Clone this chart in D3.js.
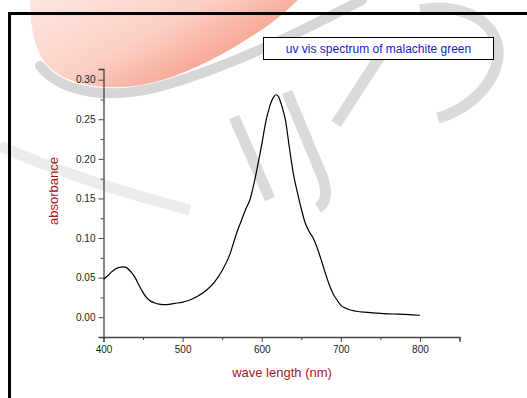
<!DOCTYPE html>
<html>
<head>
<meta charset="utf-8">
<script src="https://cdn.jsdelivr.net/npm/d3@7"></script>
<style>
  html, body { margin: 0; padding: 0; background: #fff; }
  svg { display: block; font-family: "Liberation Sans", Arial, sans-serif; }
</style>
</head>
<body>
<svg id="chart" width="527" height="398"></svg>
<script>
// ---- data ----
const wavelength = [400,405,410,415,420,425,430,435,440,445,450,455,460,465,470,475,480,490,500,510,520,530,540,550,560,565,570,575,580,585,590,595,600,605,610,615,618,621,625,630,635,640,645,650,655,660,665,670,675,680,685,690,695,700,705,710,720,730,740,750,760,770,780,790,800];
const absorbance = [0.048,0.052,0.057,0.061,0.063,0.0636,0.062,0.057,0.050,0.040,0.031,0.024,0.020,0.018,0.0165,0.016,0.016,0.0175,0.019,0.022,0.027,0.034,0.044,0.059,0.080,0.096,0.111,0.124,0.137,0.148,0.168,0.192,0.218,0.246,0.266,0.278,0.281,0.279,0.268,0.249,0.214,0.181,0.158,0.137,0.119,0.108,0.100,0.088,0.073,0.057,0.042,0.030,0.022,0.015,0.012,0.0097,0.0075,0.0063,0.0055,0.0048,0.0043,0.0039,0.0035,0.003,0.0025];
const xMajorTicks = [400,500,600,700,800];
const xMinorTicks = [450,550,650,750,850];
const yMajorTicks = [0.00,0.05,0.10,0.15,0.20,0.25,0.30];
const yMinorTicks = [-0.025,0.025,0.075,0.125,0.175,0.225,0.275];
const titleText = "uv vis spectrum of malachite green";
const xLabel = "wave length (nm)";
const yLabel = "absorbance";

const svg = d3.select("#chart");

// ---- watermark (background decoration) ----
const defs = svg.append("defs");
const grad = defs.append("linearGradient").attr("id","blobGrad")
  .attr("x1","0").attr("y1","0").attr("x2","1").attr("y2","0.6");
grad.append("stop").attr("offset","0").attr("stop-color","#fde6e0");
grad.append("stop").attr("offset","0.5").attr("stop-color","#fbcfc4");
grad.append("stop").attr("offset","0.85").attr("stop-color","#f6a28e");
grad.append("stop").attr("offset","1").attr("stop-color","#f07d66");
const wm = svg.append("g").attr("class","watermark");
wm.append("path")
  .attr("d","M30,0 C30,30 36,55 50,68 C68,84 100,90 135,86 C180,80 230,52 270,24 C285,13 292,5 298,0 Z")
  .attr("fill","url(#blobGrad)");
wm.append("path")
  .attr("d","M40,66 C62,94 112,100 162,86 C232,66 300,32 362,0")
  .attr("fill","none").attr("stroke","#d6d6d6").attr("stroke-width",10).attr("stroke-linecap","round");
wm.append("path")
  .attr("d","M0,146 C50,168 120,192 190,210")
  .attr("fill","none").attr("stroke","#ececec").attr("stroke-width",11);
const letterStyle = sel => sel.attr("fill","none").attr("stroke","#dadada").attr("stroke-width",11);
letterStyle(wm.append("path").attr("d","M234,117 L270,199"));
letterStyle(wm.append("path").attr("d","M287,92 L322,176 C328,192 326,203 318,208"));
letterStyle(wm.append("path").attr("d","M336,124 L388,44"));
letterStyle(wm.append("path").attr("d","M420,10 C470,0 510,30 495,70 C485,95 460,112 438,118"));

// ---- scales ----
const x = d3.scaleLinear().domain([400,850]).range([103.5,459.5]);
const y = d3.scaleLinear().domain([-0.025,0.3135]).range([337,69]);

// ---- axes ----
svg.append("g").attr("transform",`translate(0,${y(-0.025)})`)
  .call(d3.axisBottom(x).tickValues(xMajorTicks).tickSize(5).tickPadding(4).tickFormat(d3.format("d")));
svg.append("g").attr("transform",`translate(0,${y(-0.025)})`)
  .call(d3.axisBottom(x).tickValues(xMinorTicks).tickSize(3).tickFormat(""))
  .select(".domain").remove();
svg.append("g").attr("transform",`translate(${x(400)},0)`)
  .call(d3.axisLeft(y).tickValues(yMajorTicks).tickSize(5).tickPadding(3).tickFormat(d3.format(".2f")));
svg.append("g").attr("transform",`translate(${x(400)},0)`)
  .call(d3.axisLeft(y).tickValues(yMinorTicks).tickSize(3).tickFormat(""))
  .select(".domain").remove();

svg.selectAll(".domain").attr("stroke","#444").attr("stroke-width",1.3);
svg.selectAll(".tick line").attr("stroke","#444");
svg.selectAll(".tick text").attr("fill","#222").style("font-size","10px")
  .style("font-family","'Liberation Sans', Arial, sans-serif");

// ---- curve ----
const data = wavelength.map((w,i)=>({w, a:absorbance[i]}));
svg.append("path").datum(data)
  .attr("fill","none").attr("stroke","#000").attr("stroke-width",1.2)
  .attr("d", d3.line().x(d=>x(d.w)).y(d=>y(d.a)).curve(d3.curveMonotoneX));

// ---- labels ----
svg.append("text").attr("x",282).attr("y",377).attr("text-anchor","middle")
  .attr("fill","#a31b1b").style("font-size","13px").text(xLabel);
svg.append("text").attr("transform","translate(58,191) rotate(-90)").attr("text-anchor","middle")
  .attr("fill","#a31b1b").style("font-size","13px").text(yLabel);

// ---- title box ----
svg.append("rect").attr("x",263.5).attr("y",37.5).attr("width",230).attr("height",22)
  .attr("fill","#fff").attr("stroke","#000").attr("stroke-width",1);
svg.append("text").attr("x",378.5).attr("y",53).attr("text-anchor","middle")
  .attr("fill","#1a1acc").style("font-size","12px").text(titleText);

// ---- frame (on top) ----
svg.append("line").attr("x1",8).attr("x2",527).attr("y1",13.5).attr("y2",13.5)
  .attr("stroke","#000").attr("stroke-width",3);
svg.append("line").attr("x1",9.5).attr("x2",9.5).attr("y1",12).attr("y2",398)
  .attr("stroke","#000").attr("stroke-width",3);
</script>
</body>
</html>
